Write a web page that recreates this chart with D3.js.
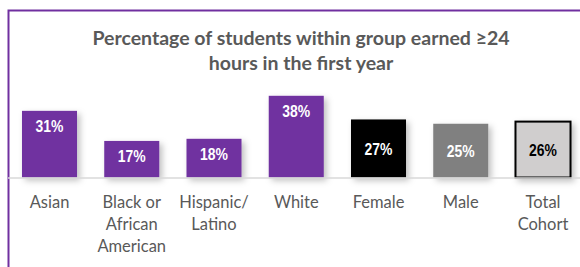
<!DOCTYPE html>
<html><head><meta charset="utf-8">
<script src="https://cdn.jsdelivr.net/npm/d3@7"></script>
<style>
html,body{margin:0;padding:0;background:#fff;}
svg{display:block;}
</style></head>
<body>
<svg id="chart" width="580" height="267"></svg>
<script>
const categories = ["Asian", "Black or\nAfrican\nAmerican", "Hispanic/\nLatino", "White", "Female", "Male", "Total\nCohort"];
const values = [31, 17, 18, 38, 27, 25, 26];
const groups = ["race", "race", "race", "race", "gender", "gender", "total"];
const barColors = ["#7030A0", "#7030A0", "#7030A0", "#7030A0", "#000000", "#808080", "#D0CECE"];
const labelColors = ["#fff", "#fff", "#fff", "#fff", "#fff", "#fff", "#000"];
const titleLines = ["Percentage of students within group earned \u226524", "hours in the first year"];

const svg = d3.select("#chart");
const defs = svg.append("defs");
const f = defs.append("filter").attr("id","sh").attr("x","-30%").attr("y","-30%").attr("width","170%").attr("height","170%");
f.append("feDropShadow").attr("dx",3).attr("dy",3).attr("stdDeviation",3).attr("flood-color","#000").attr("flood-opacity",0.25);

// border
svg.append("path").attr("d","M8.5,267 L8.5,10.5 L580,10.5").attr("fill","none").attr("stroke","#7030A0").attr("stroke-width",2);

// title
svg.append("text").attr("x",301).attr("y",45).attr("text-anchor","middle")
  .attr("font-family","Lato, 'Open Sans', sans-serif").attr("font-weight","bold").attr("font-size",19.5).attr("fill","#595959")
  .selectAll("tspan").data(titleLines).join("tspan").attr("x",301).attr("dy",(d,i)=> i? 25:0).text(d=>d);

const x = d3.scaleBand().domain(categories).range([8.375, 584.125]).paddingInner(0.331).paddingOuter(0.1655);
const y = d3.scaleLinear().domain([0, 40]).range([177.5, 91.5]);

const data = categories.map((c,i)=>({c, v:values[i], g:groups[i], col:barColors[i], lc:labelColors[i]}));

svg.append("g").selectAll("rect").data(data).join("rect")
  .attr("x", d=>x(d.c)).attr("y", d=>y(d.v)).attr("width", x.bandwidth()).attr("height", d=>y(0)-y(d.v))
  .attr("fill", d=>d.col).attr("filter","url(#sh)")
  .attr("stroke", d=>d.g==="total"?"#000":"none").attr("stroke-width", d=>d.g==="total"?2:0);

// axis
const ax = svg.append("g").attr("transform",`translate(0,${y(0)})`).call(d3.axisBottom(x).tickSize(0).tickFormat(""));
ax.select(".domain").attr("d","M8,0.5H580").attr("stroke","#D9D9D9").attr("stroke-width",1.5);
ax.selectAll(".tick").each(function(d){
  const t = d3.select(this).append("text").attr("fill","#595959").attr("font-family","Lato, 'Open Sans', sans-serif")
    .attr("font-size",16.5).attr("text-anchor","middle").attr("y",30);
  d.split("\n").forEach((line,i)=>{ t.append("tspan").attr("x",0).attr("dy", i?22:0).text(line); });
});

// value labels (narrow bold face emulated with a horizontal squeeze)
svg.append("g").selectAll("text").data(data).join("text")
  .attr("transform", d=>{
    const cx = x(d.c)+x.bandwidth()/2;
    const cy = d.g==="race" ? y(d.v)+15 : (y(d.v)+y(0))/2;
    return `translate(${cx},${cy}) scale(0.82,1)`;
  })
  .attr("dy","0.36em").attr("text-anchor","middle")
  .attr("font-family","'Liberation Sans', Arial, sans-serif").attr("font-weight","bold")
  .attr("font-size",17).attr("fill", d=>d.lc).text(d=>d.v+"%");
</script>
</body></html>
